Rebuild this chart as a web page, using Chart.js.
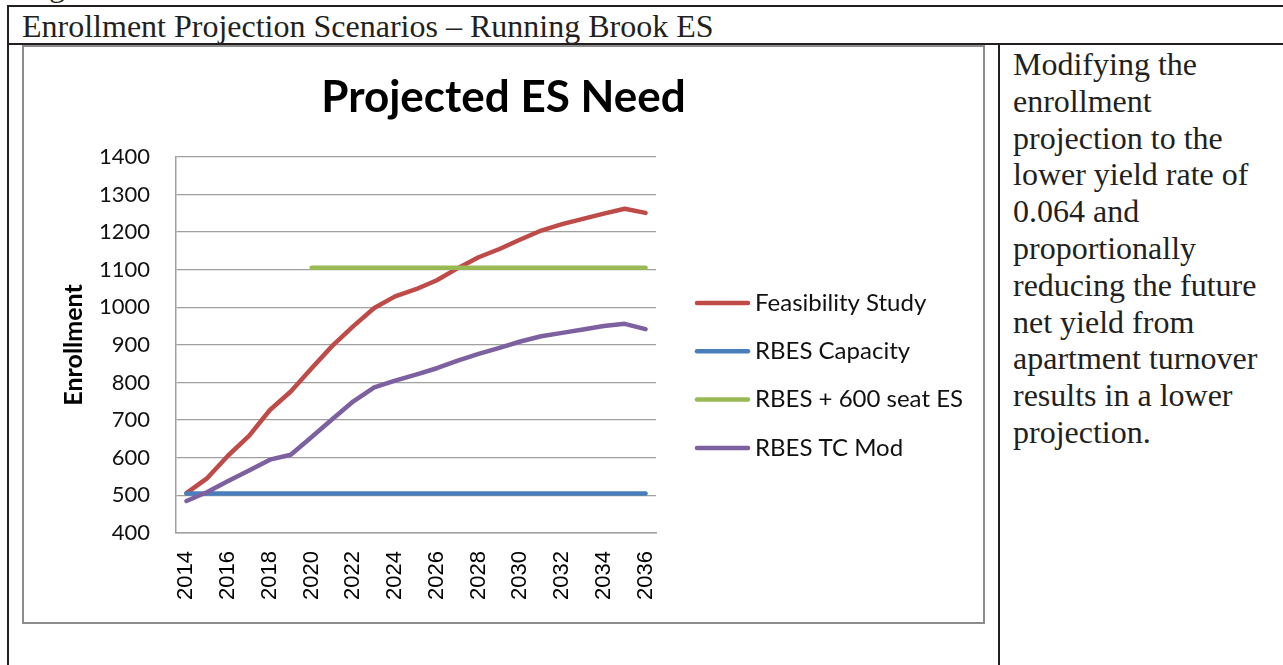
<!DOCTYPE html>
<html>
<head>
<meta charset="utf-8">
<script src="https://cdn.jsdelivr.net/npm/chart.js@4.4.0/dist/chart.umd.min.js"></script>
<style>
  body { margin: 0; background: #fff; width: 1283px; height: 665px; overflow: hidden; position: relative;
         font-family: "Liberation Serif", serif; font-size: 32px; line-height: 36.8px; color: #231f20; }
  .frag { position: absolute; left: 49px; top: -33px; }
  .head { position: absolute; left: 7px; top: 5px; width: 1300px; height: 36px; border: 2px solid #231f20; }
  .vline { position: absolute; top: 43px; width: 2px; height: 622px; background: #231f20; }
  .headText { position: absolute; left: 22px; top: 8px; white-space: nowrap; }
  .note { position: absolute; left: 1013px; top: 46px; white-space: nowrap; }
  .box { position: absolute; left: 22px; top: 45px; width: 959px; height: 575px; border: 2px solid #8c8c8c; }
  canvas { display: block; }
</style>
</head>
<body>
<div class="frag">g</div>
<div class="head"></div>
<div class="vline" style="left:7px"></div>
<div class="vline" style="left:998px"></div>
<div class="headText">Enrollment Projection Scenarios – Running Brook ES</div>
<div class="note">Modifying the<br>enrollment<br>projection to the<br>lower yield rate of<br>0.064 and<br>proportionally<br>reducing the future<br>net yield from<br>apartment turnover<br>results in a lower<br>projection.</div>
<div class="box"><canvas id="chart" width="959" height="575"></canvas></div>

<script>
const years = ['2014', '2015', '2016', '2017', '2018', '2019', '2020', '2021', '2022', '2023', '2024', '2025',
  '2026', '2027', '2028', '2029', '2030', '2031', '2032', '2033', '2034', '2035', '2036'];

const feasibility = [506, 546, 606, 658, 727, 776, 838, 898, 950, 998, 1029, 1048,
  1072, 1104, 1133, 1155, 1180, 1204, 1221, 1235, 1249, 1262, 1251];
const capacity = [505, 505, 505, 505, 505, 505, 505, 505, 505, 505, 505, 505,
  505, 505, 505, 505, 505, 505, 505, 505, 505, 505, 505];
const withNewEs = [null, null, null, null, null, null, 1105, 1105, 1105, 1105, 1105, 1105,
  1105, 1105, 1105, 1105, 1105, 1105, 1105, 1105, 1105, 1105, 1105];
const tcMod = [485, 509, 538, 566, 595, 608, 655, 703, 750, 787, 805, 821,
  838, 858, 876, 892, 909, 923, 932, 941, 950, 956, 942];

const seriesNames = ['Feasibility Study', 'RBES Capacity', 'RBES + 600 seat ES', 'RBES TC Mod'];
const seriesColors = ['#be4b48', '#4a7ebb', '#98b954', '#7d60a0'];

// legend drawn beside the plot, one row per dataset
const sideLegend = {
  id: 'sideLegend',
  afterDraw(chart, args, opts) {
    const ctx = chart.ctx;
    ctx.save();
    ctx.font = opts.font;
    ctx.textBaseline = 'middle';
    ctx.lineCap = 'round';
    chart.data.datasets.forEach((ds, i) => {
      const y = opts.top + i * opts.gap;
      ctx.strokeStyle = ds.borderColor;
      ctx.lineWidth = ds.borderWidth;
      ctx.beginPath();
      ctx.moveTo(opts.x, y);
      ctx.lineTo(opts.x + opts.len, y);
      ctx.stroke();
      ctx.fillStyle = '#111';
      ctx.fillText(ds.label, opts.x + opts.len + opts.textGap, y);
    });
    ctx.restore();
  }
};

function line(i, values, order) {
  return {
    label: seriesNames[i],
    data: values,
    borderColor: seriesColors[i],
    backgroundColor: seriesColors[i],
    borderWidth: 4.5,
    borderCapStyle: 'round',
    borderJoinStyle: 'round',
    pointRadius: 0,
    tension: 0,
    order: order
  };
}

new Chart(document.getElementById('chart'), {
  type: 'line',
  data: {
    labels: years,
    datasets: [
      line(0, feasibility, 4),
      line(1, capacity, 3),
      line(2, withNewEs, 2),
      line(3, tcMod, 1)
    ]
  },
  options: {
    responsive: false,
    animation: false,
    layout: { padding: 0 },
    plugins: {
      legend: { display: false },
      tooltip: { enabled: false },
      title: {
        display: true,
        text: 'Projected ES Need',
        color: '#000',
        font: { family: 'Lato', size: 44, weight: 'bold' },
        padding: { top: 24, bottom: 33 }
      },
      sideLegend: { x: 673, len: 51, textGap: 7, top: 256, gap: 48.3, font: '24px Lato' }
    },
    scales: {
      x: {
        offset: true,
        grid: { display: false, drawTicks: false },
        border: { display: true, color: '#a0a0a0', width: 1.5 },
        ticks: {
          autoSkip: false,
          minRotation: 90,
          maxRotation: 90,
          padding: 18,
          color: '#000',
          font: { family: 'Liberation Sans', size: 22 },
          callback: function (value, index) {
            return index % 2 === 0 ? this.getLabelForValue(value) : '';
          }
        },
        afterFit: (scale) => { scale.height = 89; }
      },
      y: {
        min: 400,
        max: 1400,
        grid: { color: '#a0a0a0', lineWidth: 1.3, drawTicks: false },
        border: { display: true, color: '#a0a0a0', width: 1.5 },
        ticks: {
          stepSize: 100,
          padding: 26,
          color: '#111',
          format: { useGrouping: false },
          font: { family: 'Lato', size: 22 }
        },
        title: {
          display: true,
          text: 'Enrollment',
          color: '#000',
          font: { family: 'Lato', size: 25, weight: 'bold' },
          padding: { top: 35, bottom: 0 }
        },
        afterFit: (scale) => { scale.width = 152; }
      },
      // empty axis on the right keeps room for the legend
      side: {
        type: 'linear',
        position: 'right',
        grid: { display: false, drawTicks: false },
        border: { display: false },
        ticks: { display: false },
        afterFit: (scale) => { scale.width = 327; }
      }
    }
  },
  plugins: [sideLegend]
});
</script>
</body>
</html>
